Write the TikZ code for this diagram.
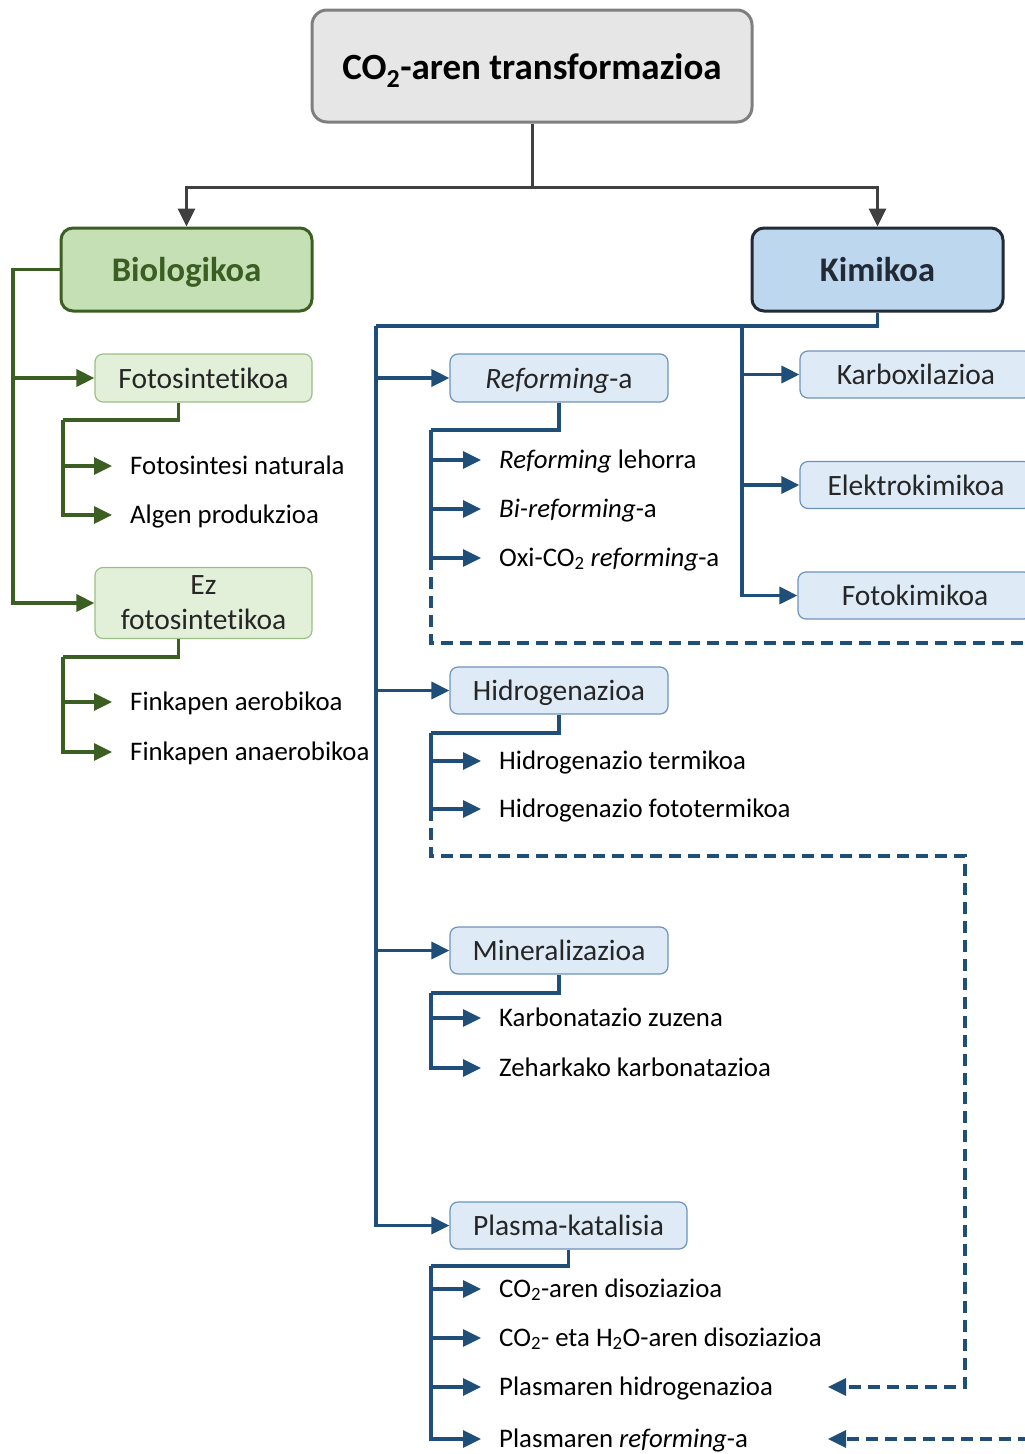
\documentclass[tikz,border=0pt]{standalone}
\usepackage{fontspec}
\setmainfont{Carlito}[Ligatures=NoCommon]
\usetikzlibrary{arrows.meta}

\definecolor{titlefill}{HTML}{E6E6E6}
\definecolor{titledraw}{HTML}{7F7F7F}
\definecolor{darkline}{HTML}{404040}
\definecolor{biofill}{HTML}{C5E0B4}
\definecolor{biogreen}{HTML}{3B5E22}
\definecolor{lgfill}{HTML}{E2F0D9}
\definecolor{lgdraw}{HTML}{9CBF83}
\definecolor{kimfill}{HTML}{BDD7EE}
\definecolor{kimdraw}{HTML}{222A35}
\definecolor{bline}{HTML}{1F4E79}
\definecolor{lbfill}{HTML}{DEEBF7}
\definecolor{lbdraw}{HTML}{6C93BE}

\tikzset{
  tip/.style={-{Triangle[length=18pt,width=17pt]}},
  titlebox/.style={draw=titledraw,fill=titlefill,line width=3pt,rounded corners=15pt,
    font=\fontsize{37}{42}\selectfont\bfseries,text height=30pt,text depth=4pt},
  biobox/.style={draw=biogreen,fill=biofill,line width=3pt,rounded corners=12pt,
    text=biogreen,font=\fontsize{34.5}{40}\selectfont\bfseries,text height=28pt,text depth=4pt},
  kimbox/.style={draw=kimdraw,fill=kimfill,line width=3pt,rounded corners=12pt,
    text=kimdraw,font=\fontsize{34.5}{40}\selectfont\bfseries,text height=28pt,text depth=4pt},
  greenbox/.style={draw=lgdraw,fill=lgfill,line width=1.2pt,rounded corners=8pt,
    font=\fontsize{29.5}{35}\selectfont,text=black!85,align=center},
  bluebox/.style={draw=lbdraw,fill=lbfill,line width=1.2pt,rounded corners=8pt,
    font=\fontsize{29.5}{35}\selectfont,text=black!85,text height=23pt,text depth=3pt},
  leaf/.style={anchor=west,inner sep=0pt,font=\fontsize{26.8}{32}\selectfont,
    text height=18pt,text depth=2pt},
  glink/.style={draw=biogreen,line width=3.2pt},
  blink/.style={draw=bline,line width=3.2pt},
  bdash/.style={draw=bline,line width=3.2pt,dash pattern=on 12pt off 7pt}
}

\begin{document}
\begin{tikzpicture}[x=1pt,y=-1pt]
\useasboundingbox (0,0) rectangle (1025,1454);

\node[titlebox,minimum width=440pt,minimum height=112pt] (title) at (532,66) {CO\textsubscript{2}-aren transformazioa};
\node[biobox,minimum width=251pt,minimum height=83pt] (bio) at (186.5,269.5) {Biologikoa};
\node[kimbox,minimum width=251pt,minimum height=83pt] (kim) at (877.5,269.5) {Kimikoa};

\node[greenbox,minimum width=217pt,minimum height=48pt,text height=23pt,text depth=3pt] (foto) at (203.5,378) {Fotosintetikoa};
\node[greenbox,minimum width=217pt,minimum height=71pt,inner sep=1pt] (ezfoto) at (203.5,603) {Ez\\[0pt]fotosintetikoa};

\node[bluebox,minimum width=218pt,minimum height=48pt] (reform) at (559,378) {\textit{Reforming}-a};
\node[bluebox,minimum width=218pt,minimum height=47pt] (hidro) at (559,690.5) {Hidrogenazioa};
\node[bluebox,minimum width=218pt,minimum height=47pt] (miner) at (559,950.5) {Mineralizazioa};
\node[bluebox,minimum width=237pt,minimum height=47pt] (plasma) at (568.5,1225.5) {Plasma-katalisia};
\node[bluebox,minimum width=232pt,minimum height=47pt] (karbox) at (916,374.5) {Karboxilazioa};
\node[bluebox,minimum width=232pt,minimum height=47pt] (elektro) at (916,485) {Elektrokimikoa};
\node[bluebox,minimum width=234pt,minimum height=47pt] (fotokim) at (915,595.5) {Fotokimikoa};

\node[leaf] (fl1) at (130,466) {Fotosintesi naturala};
\node[leaf] (fl2) at (130,515) {Algen produkzioa};
\node[leaf] (el1) at (130,702) {Finkapen aerobikoa};
\node[leaf] (el2) at (130,752) {Finkapen anaerobikoa};

\node[leaf] (rl1) at (499,460) {\textit{Reforming} lehorra};
\node[leaf] (rl2) at (499,509) {\textit{Bi-reforming}-a};
\node[leaf] (rl3) at (499,558) {Oxi-CO\textsubscript{2} \textit{reforming}-a};
\node[leaf] (hl1) at (499,761) {Hidrogenazio termikoa};
\node[leaf] (hl2) at (499,809) {Hidrogenazio fototermikoa};
\node[leaf] (ml1) at (499,1018) {Karbonatazio zuzena};
\node[leaf] (ml2) at (499,1068) {Zeharkako karbonatazioa};
\node[leaf] (pl1) at (499,1289) {CO\textsubscript{2}-aren disoziazioa};
\node[leaf] (pl2) at (499,1338) {CO\textsubscript{2}- eta H\textsubscript{2}O-aren disoziazioa};
\node[leaf] (pl3) at (499,1387) {Plasmaren hidrogenazioa};
\node[leaf] (pl4) at (499,1439) {Plasmaren \textit{reforming}-a};

\coordinate (split) at (532,187);
\coordinate (gtrunk) at (13,269.5);
\coordinate (fk) at (63,420);
\coordinate (ek) at (63,657);
\coordinate (btrunk) at (376,326);
\coordinate (ctrunk) at (742,326);
\coordinate (rk) at (431,430);
\coordinate (rend) at (431,643);
\coordinate (redge) at (1030,643);
\coordinate (hk) at (431,733);
\coordinate (hend) at (431,856);
\coordinate (hturn) at (965,856);
\coordinate (hback) at (828,1387);
\coordinate (mk) at (431,993);
\coordinate (pk) at (431,1266);
\coordinate (pedge) at (1030,1439);
\coordinate (pback) at (828,1439);

\draw[darkline,line width=3pt,tip] (title.south) |- (split) -| (bio.north);
\draw[darkline,line width=3pt,tip] (title.south) |- (split) -| (kim.north);

\draw[glink,tip] (bio.west) -- (gtrunk) |- (foto.west);
\draw[glink,tip] (gtrunk) |- (ezfoto.west);
\draw[glink] ([xshift=-25pt]foto.south) |- (fk);
\draw[glink,tip] (fk) |- ([xshift=-18pt]fl1.west);
\draw[glink,tip] (fk) |- ([xshift=-18pt]fl2.west);
\draw[glink] ([xshift=-25pt]ezfoto.south) |- (ek);
\draw[glink,tip] (ek) |- ([xshift=-18pt]el1.west);
\draw[glink,tip] (ek) |- ([xshift=-18pt]el2.west);

\draw[blink] (kim.south) |- (btrunk);
\draw[blink,tip] (btrunk) |- (reform.west);
\draw[blink,tip] (btrunk) |- (hidro.west);
\draw[blink,tip] (btrunk) |- (miner.west);
\draw[blink,tip] (btrunk) |- (plasma.west);
\draw[blink,tip] (ctrunk) |- (karbox.west);
\draw[blink,tip] (ctrunk) |- (elektro.west);
\draw[blink,tip] (ctrunk) |- (fotokim.west);

\draw[blink] (reform.south) |- (rk);
\draw[blink,tip] (rk) |- ([xshift=-18pt]rl1.west);
\draw[blink,tip] (rk) |- ([xshift=-18pt]rl2.west);
\draw[blink,tip] (rk) |- ([xshift=-18pt]rl3.west);
\draw[bdash] (rk |- rl3.west) -- (rend) -- (redge);

\draw[blink] (hidro.south) |- (hk);
\draw[blink,tip] (hk) |- ([xshift=-18pt]hl1.west);
\draw[blink,tip] (hk) |- ([xshift=-18pt]hl2.west);
\draw[bdash,tip] (hk |- hl2.west) -- (hend) -- (hturn) |- (hback);

\draw[blink] (miner.south) |- (mk);
\draw[blink,tip] (mk) |- ([xshift=-18pt]ml1.west);
\draw[blink,tip] (mk) |- ([xshift=-18pt]ml2.west);

\draw[blink] (plasma.south) |- (pk);
\draw[blink,tip] (pk) |- ([xshift=-18pt]pl1.west);
\draw[blink,tip] (pk) |- ([xshift=-18pt]pl2.west);
\draw[blink,tip] (pk) |- ([xshift=-18pt]pl3.west);
\draw[blink,tip] (pk) |- ([xshift=-18pt]pl4.west);
\draw[bdash,tip] (pedge) -- (pback);
\end{tikzpicture}
\end{document}
